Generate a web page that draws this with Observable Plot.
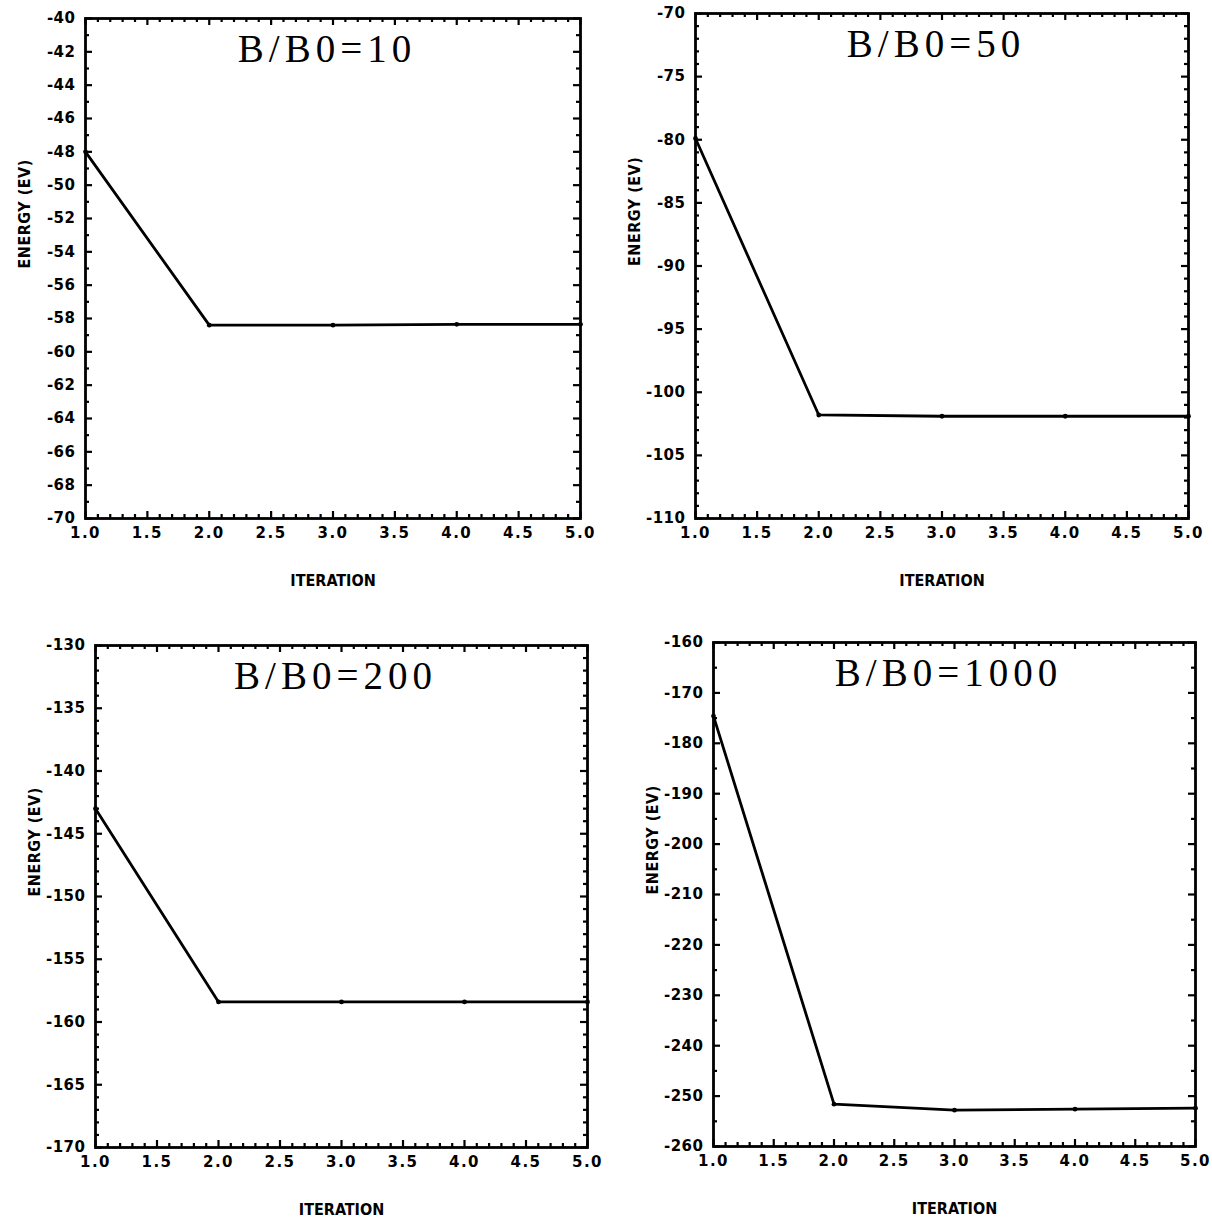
<!DOCTYPE html>
<html>
<head>
<meta charset="utf-8">
<script src="https://cdn.jsdelivr.net/npm/d3@7"></script>
<script src="https://cdn.jsdelivr.net/npm/@observablehq/plot@0.6"></script>
<style>
html, body { margin: 0; padding: 0; background: #fff; }
#root { position: relative; width: 1212px; height: 1218px; overflow: hidden; background: #fff; }
#root svg { position: absolute; }
</style>
</head>
<body>
<div id="root"></div>
<script>
// ---------- data ----------
const iterations = [1, 2, 3, 4, 5];
const xTicks = [1.0, 1.5, 2.0, 2.5, 3.0, 3.5, 4.0, 4.5, 5.0];
const xTickLabels = ["1.0", "1.5", "2.0", "2.5", "3.0", "3.5", "4.0", "4.5", "5.0"];
const xAxisTitle = "ITERATION";
const yAxisTitle = "ENERGY (EV)";

const titles = ["B/B0=10", "B/B0=50", "B/B0=200", "B/B0=1000"];

const energy10 = [-48.0, -58.4, -58.4, -58.35, -58.35];
const energy50 = [-79.9, -101.8, -101.9, -101.9, -101.9];
const energy200 = [-143.0, -158.4, -158.4, -158.4, -158.4];
const energy1000 = [-174.6, -251.6, -252.8, -252.6, -252.4];

const yTicks10 = [-40, -42, -44, -46, -48, -50, -52, -54, -56, -58, -60, -62, -64, -66, -68, -70];
const yTicks50 = [-70, -75, -80, -85, -90, -95, -100, -105, -110];
const yTicks200 = [-130, -135, -140, -145, -150, -155, -160, -165, -170];
const yTicks1000 = [-160, -170, -180, -190, -200, -210, -220, -230, -240, -250, -260];
const yMinorSteps = [1, 1, 1, 5];
const xMinorStep = 0.1;

// ---------- layout ----------
const layout = [
  {left: 0,   top: 0,   width: 606, height: 615, ml: 85,  mr: 26, mt: 18, mb: 97},
  {left: 606, top: 0,   width: 606, height: 615, ml: 89,  mr: 24, mt: 13, mb: 97},
  {left: 0,   top: 615, width: 606, height: 603, ml: 95,  mr: 19, mt: 30, mb: 71},
  {left: 606, top: 615, width: 606, height: 603, ml: 107, mr: 17, mt: 27, mb: 72}
];
const seriesValues = [energy10, energy50, energy200, energy1000];
const seriesTicks = [yTicks10, yTicks50, yTicks200, yTicks1000];

const near = (arr, v) => arr.some(t => Math.abs(t - v) < 1e-6);

function panel(k) {
  const L = layout[k];
  const values = seriesValues[k];
  const yTicks = seriesTicks[k];
  const iw = L.width - L.ml - L.mr;
  const ih = L.height - L.mt - L.mb;
  const yMin = d3.min(yTicks), yMax = d3.max(yTicks);
  const yAll = d3.range(0, Math.round((yMax - yMin) / yMinorSteps[k]) + 1).map(i => yMin + i * yMinorSteps[k]);
  const yMinor = yAll.filter(v => !near(yTicks, v));
  const xAll = d3.range(0, Math.round((5 - 1) / xMinorStep) + 1).map(i => +(1 + i * xMinorStep).toFixed(2));
  const xMinor = xAll.filter(v => !near(xTicks, v));
  const data = iterations.map((x, i) => ({x, y: values[i]}));
  const majLen = 7, minLen = 4, tw = 2.2;
  const labelFont = "'DejaVu Sans', sans-serif";
  const titleFont = "'DejaVu Sans Condensed', 'DejaVu Sans', sans-serif";

  const svg = Plot.plot({
    width: L.width, height: L.height,
    marginLeft: L.ml, marginRight: L.mr, marginTop: L.mt, marginBottom: L.mb,
    x: {domain: [1, 5]},
    y: {domain: [yMin, yMax]},
    style: {fontFamily: labelFont, fontSize: "15px", fontWeight: "bold", color: "#000", background: "transparent", overflow: "visible"},
    marks: [
      // inward tick marks, all four sides
      Plot.ruleY(yTicks, {y: d => d, stroke: "#000", strokeWidth: tw, insetRight: iw - majLen}),
      Plot.ruleY(yMinor, {y: d => d, stroke: "#000", strokeWidth: tw, insetRight: iw - minLen}),
      Plot.ruleY(yTicks, {y: d => d, stroke: "#000", strokeWidth: tw, insetLeft: iw - majLen}),
      Plot.ruleY(yMinor, {y: d => d, stroke: "#000", strokeWidth: tw, insetLeft: iw - minLen}),
      Plot.ruleX(xTicks, {x: d => d, stroke: "#000", strokeWidth: tw, insetTop: ih - majLen}),
      Plot.ruleX(xMinor, {x: d => d, stroke: "#000", strokeWidth: tw, insetTop: ih - minLen}),
      Plot.ruleX(xTicks, {x: d => d, stroke: "#000", strokeWidth: tw, insetBottom: ih - majLen}),
      Plot.ruleX(xMinor, {x: d => d, stroke: "#000", strokeWidth: tw, insetBottom: ih - minLen}),
      Plot.axisX(xTicks, {anchor: "bottom", tickSize: 0, tickPadding: 9, label: null,
        tickFormat: d => xTickLabels[xTicks.indexOf(d)], fill: "#000",
        fontSize: 15, fontWeight: "bold", fontFamily: labelFont}),
      Plot.axisY(yTicks, {anchor: "left", tickSize: 0, tickPadding: 10, label: null,
        tickFormat: d => String(d), fill: "#000",
        fontSize: 15, fontWeight: "bold", fontFamily: labelFont}),
      Plot.frame({stroke: "#000", strokeWidth: 2.8}),
      Plot.line(data, {x: "x", y: "y", stroke: "#000", strokeWidth: 2.8, strokeLinejoin: "round"}),
      Plot.dot(data, {x: "x", y: "y", r: 2.4, fill: "#000", stroke: null}),
      Plot.text([titles[k]], {text: d => d, frameAnchor: "top", dy: 31, dx: -6, lineAnchor: "middle",
        fontFamily: "'Liberation Serif', serif", fontSize: 39, fontWeight: "normal", fill: "#000"}),
      Plot.text([xAxisTitle], {text: d => d, frameAnchor: "bottom", dy: 62, lineAnchor: "middle",
        fontFamily: titleFont, fontSize: 16, fontWeight: "bold", fill: "#000"}),
      Plot.text([yAxisTitle], {text: d => d, frameAnchor: "left", dx: -61, rotate: -90, lineAnchor: "middle",
        fontFamily: titleFont, fontSize: 16, fontWeight: "bold", fill: "#000"})
    ]
  });
  svg.style.left = L.left + "px";
  svg.style.top = L.top + "px";
  d3.select(svg).selectAll("text").each(function() {
    const t = this.textContent;
    if (t.startsWith("B/B0")) this.setAttribute("letter-spacing", "5");
    else if (xTickLabels.includes(t)) this.setAttribute("letter-spacing", "1.5");
    else if (t === yAxisTitle) this.setAttribute("letter-spacing", "0.5");
    else if (/^-\d+$/.test(t)) this.setAttribute("letter-spacing", "0.5");
  });
  return svg;
}

const root = document.getElementById("root");
for (let k = 0; k < 4; k++) root.appendChild(panel(k));
</script>
</body>
</html>
